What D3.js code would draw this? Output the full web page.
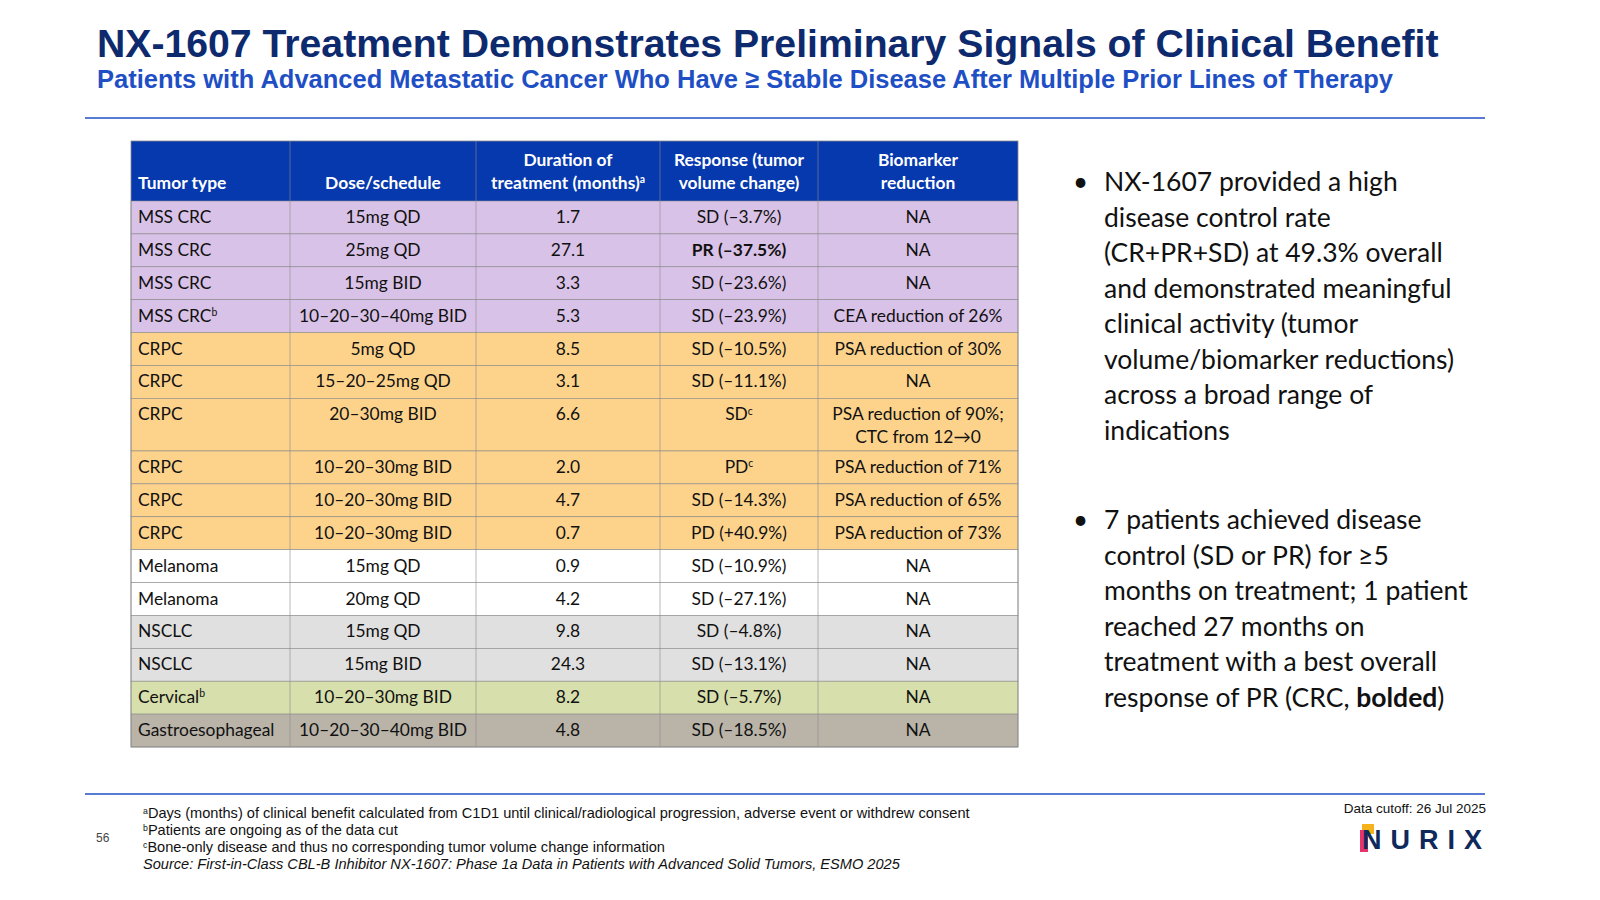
<!DOCTYPE html>
<html><head><meta charset="utf-8">
<script src="https://cdn.jsdelivr.net/npm/d3@7"></script>
<style>body{margin:0;background:#fff}svg{display:block}</style>
</head><body><svg id="c" width="1600" height="900"></svg>
<script>
const headers=[["Tumor type"],["Dose/schedule"],["Duration of","treatment (months)^a"],["Response (tumor","volume change)"],["Biomarker","reduction"]];
const tumor=["MSS CRC","MSS CRC","MSS CRC","MSS CRC^b","CRPC","CRPC","CRPC","CRPC","CRPC","CRPC","Melanoma","Melanoma","NSCLC","NSCLC","Cervical^b","Gastroesophageal"];
const dose=["15mg QD","25mg QD","15mg BID","10–20–30–40mg BID","5mg QD","15–20–25mg QD","20–30mg BID","10–20–30mg BID","10–20–30mg BID","10–20–30mg BID","15mg QD","20mg QD","15mg QD","15mg BID","10–20–30mg BID","10–20–30–40mg BID"];
const duration=[1.7,27.1,3.3,5.3,8.5,3.1,6.6,2.0,4.7,0.7,0.9,4.2,9.8,24.3,8.2,4.8];
const response=["SD (–3.7%)","PR (–37.5%)","SD (–23.6%)","SD (–23.9%)","SD (–10.5%)","SD (–11.1%)","SD^c","PD^c","SD (–14.3%)","PD (+40.9%)","SD (–10.9%)","SD (–27.1%)","SD (–4.8%)","SD (–13.1%)","SD (–5.7%)","SD (–18.5%)"];
const biomarker=[["NA"],["NA"],["NA"],["CEA reduction of 26%"],["PSA reduction of 30%"],["NA"],["PSA reduction of 90%;","CTC from 12→0"],["PSA reduction of 71%"],["PSA reduction of 65%"],["PSA reduction of 73%"],["NA"],["NA"],["NA"],["NA"],["NA"],["NA"]];
const group=["crc","crc","crc","crc","crpc","crpc","crpc","crpc","crpc","crpc","mel","mel","nsclc","nsclc","cerv","gastro"];
const rowUnits=[1,1,1,1,1,1,1.6,1,1,1,1,1,1,1,1,1];

const svg=d3.select("#c");
const F="Lato, 'Open Sans', sans-serif", A="'Liberation Sans', Arial, sans-serif";
function sup(sel,t){const p=t.split("^");sel.append("tspan").text(p[0]);if(p[1])sel.append("tspan").attr("font-size","0.6em").attr("dy","-0.55em").text(p[1]);return sel;}
svg.append("text").attr("x",97).attr("y",57).attr("font-family",A).attr("font-weight",700).attr("font-size",39.2).attr("fill","#0E2A6E").text("NX-1607 Treatment Demonstrates Preliminary Signals of Clinical Benefit");
svg.append("text").attr("x",97).attr("y",88).attr("font-family",A).attr("font-weight",700).attr("font-size",25.5).attr("fill","#1F4FC4").text("Patients with Advanced Metastatic Cancer Who Have ≥ Stable Disease After Multiple Prior Lines of Therapy");
svg.append("line").attr("x1",85).attr("x2",1485).attr("y1",118).attr("y2",118).attr("stroke","#1F4FC4").attr("stroke-width",1.5);
svg.append("line").attr("x1",85).attr("x2",1485).attr("y1",794).attr("y2",794).attr("stroke","#1F4FC4").attr("stroke-width",1.5);

const colEdges=[131,290,476,660,818,1018];
const color=d3.scaleOrdinal().domain(["crc","crpc","mel","nsclc","cerv","gastro"]).range(["#D9C2E7","#FDD38C","#FFFFFF","#E0E0E0","#D7DFAC","#B9B3A8"]);
const cum=[0];rowUnits.forEach(u=>cum.push(cum[cum.length-1]+u));
const y=d3.scaleLinear().domain([0,d3.sum(rowUnits)]).range([201,747]);
const g=svg.append("g");
g.append("rect").attr("x",131).attr("y",141).attr("width",887).attr("height",60).attr("fill","#0638AE");
headers.forEach((h,i)=>{
  const cx=i===0?138:(colEdges[i]+colEdges[i+1])/2;
  h.forEach((t,j)=>sup(g.append("text").attr("x",cx).attr("y",h.length===1?189:166+j*23).attr("text-anchor",i===0?"start":"middle")
    .attr("font-family",F).attr("font-weight",700).attr("font-size",17.4).attr("fill","#fff"),t));
});
const cols=[tumor,dose,duration.map(d=>d.toFixed(1)),response,biomarker];
tumor.forEach((_,r)=>{
  const y0=y(cum[r]),y1=y(cum[r+1]);
  g.append("rect").attr("x",131).attr("y",y0).attr("width",887).attr("height",y1-y0).attr("fill",color(group[r])).attr("stroke","#8a8a8a").attr("stroke-width",0.6);
  cols.forEach((col,c)=>{
    const lines=Array.isArray(col[r])?col[r]:[col[r]];
    const cx=c===0?138:(colEdges[c]+colEdges[c+1])/2;
    lines.forEach((t,j)=>sup(g.append("text").attr("x",cx).attr("y",y0+22+j*23).attr("text-anchor",c===0?"start":"middle")
      .attr("font-family",F).attr("font-size",17.4).attr("fill","#111").attr("font-weight",(c===3&&r===1)?700:400),t));
  });
});
colEdges.slice(1,-1).forEach(x=>g.append("line").attr("x1",x).attr("x2",x).attr("y1",141).attr("y2",747).attr("stroke","#8a8a8a").attr("stroke-width",0.6));
g.append("rect").attr("x",131).attr("y",141).attr("width",887).attr("height",606).attr("fill","none").attr("stroke","#8a8a8a").attr("stroke-width",0.8);

const bullets=[["NX-1607 provided a high","disease control rate","(CR+PR+SD) at 49.3% overall","and demonstrated meaningful","clinical activity (tumor","volume/biomarker reductions)","across a broad range of","indications"],
["7 patients achieved disease","control (SD or PR) for ≥5","months on treatment; 1 patient","reached 27 months on","treatment with a best overall","response of PR (CRC, <b>bolded</b>)"]];
[191,529].forEach((by,b)=>{
  svg.append("text").attr("x",1073).attr("y",by).attr("font-family",F).attr("font-size",26).attr("fill","#111").text("•");
  bullets[b].forEach((t,i)=>{
    const tx=svg.append("text").attr("x",1104).attr("y",by+i*35.5).attr("font-family",F).attr("font-size",26.5).attr("fill","#111");
    const m=t.match(/^(.*)<b>(.*)<\/b>(.*)$/);
    if(m){tx.append("tspan").text(m[1]);tx.append("tspan").attr("font-weight",700).text(m[2]);tx.append("tspan").text(m[3]);}
    else tx.text(t);
  });
});
const notes=["^aDays (months) of clinical benefit calculated from C1D1 until clinical/radiological progression, adverse event or withdrew consent","^bPatients are ongoing as of the data cut","^cBone-only disease and thus no corresponding tumor volume change information"];
notes.forEach((t,i)=>{const p=t.slice(1);const tx=svg.append("text").attr("x",143).attr("y",818+i*17).attr("font-family",A).attr("font-size",14.6).attr("fill","#111");
  tx.append("tspan").attr("font-size","0.6em").attr("dy","-0.5em").text(p[0]);tx.append("tspan").attr("dy","0.3em").text(p.slice(1));});
svg.append("text").attr("x",143).attr("y",869).attr("font-family",A).attr("font-size",14.6).attr("font-style","italic").attr("fill","#111").text("Source: First-in-Class CBL-B Inhibitor NX-1607: Phase 1a Data in Patients with Advanced Solid Tumors, ESMO 2025");
svg.append("text").attr("x",96).attr("y",842).attr("font-family",A).attr("font-size",12).attr("fill","#444").text("56");
svg.append("text").attr("x",1486).attr("y",813).attr("text-anchor","end").attr("font-family",A).attr("font-size",13.5).attr("fill","#111").text("Data cutoff: 26 Jul 2025");
svg.append("rect").attr("x",1362).attr("y",824).attr("width",12).attr("height",10).attr("fill","#F6B21B");
svg.append("rect").attr("x",1360).attr("y",830).attr("width",8).attr("height",22).attr("fill","#E5336B");
svg.append("text").attr("x",1362).attr("y",849).attr("font-family",A).attr("font-weight",900).attr("font-size",27).attr("letter-spacing",9).attr("fill","#0E2A5C").text("NURIX");
</script></body></html>
